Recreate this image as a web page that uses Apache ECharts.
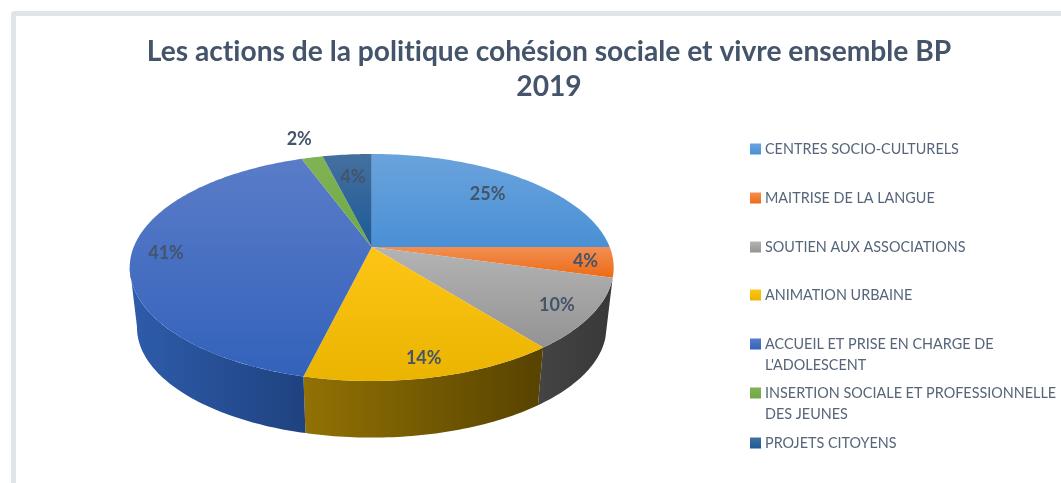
<!DOCTYPE html>
<html><head><meta charset="utf-8">
<style>html,body{margin:0;padding:0;background:#fff}#c{width:1061px;height:483px}</style>
<script src="https://cdn.jsdelivr.net/npm/echarts@6/dist/echarts.min.js"></script>
</head><body><div id="c"></div>
<script>
const titleLines = ["Les actions de la politique cohésion sociale et vivre ensemble BP", "2019"];
const categories = ["CENTRES SOCIO-CULTURELS", "MAITRISE DE LA LANGUE", "SOUTIEN AUX ASSOCIATIONS", "ANIMATION URBAINE", "ACCUEIL ET PRISE EN CHARGE DE\nL'ADOLESCENT", "INSERTION SOCIALE ET PROFESSIONNELLE\nDES JEUNES", "PROJETS CITOYENS"];
const values = [25, 4.3, 10.1, 14.4, 40.6, 1.7, 3.9];

const faceColors = [["#6aa3dc","#4a90d6"],["#f28f52","#ee6a14"],["#b4b4b4","#939393"],["#fec516","#eab400"],["#5a7cc8","#3362bb"],["#80b356","#6fa843"],["#44709f","#1c5a97"]];
const wallColors = [null,null,["#444444","#383838"],["#927204","#574200"],["#2e5cab","#1f4280"],null,null];
const labelRadius = [0.755,0.887,0.855,0.872,0.858,1.26,0.73];
const labelDrop = 1;
const legendRows = [149,198,247,295,344,393,443];
const P = {apexX:371.7, apexY:247, a:238, b:109.8, k:0.1806, midY:267.5, wallX:0.97, wallY:0.97, wallMidY:327.5, wallFrom:105.5, wallTo:260};
const total = values.reduce((s,v)=>s+v,0);
const starts = values.map((_,i)=>values.slice(0,i).reduce((s,v)=>s+v,0));

const nativeGetContext = HTMLCanvasElement.prototype.getContext;
HTMLCanvasElement.prototype.getContext = function(){
  const ctx = nativeGetContext.apply(this, arguments);
  if (ctx && 'textRendering' in ctx) ctx.textRendering = 'optimizeSpeed';
  return ctx;
};

function topPoint(deg, r){
  const t = deg*Math.PI/180, u = r*Math.sin(t), v = -r*Math.cos(t), d = 1-P.k*v;
  return [P.apexX+P.a*u/d, P.apexY+P.b*v/d];
}
function bottomPoint(deg){
  const p = topPoint(deg,1);
  return [P.apexX+(p[0]-P.apexX)*P.wallX, P.wallMidY+(p[1]-P.midY)*P.wallY];
}
function arc(from,to,fn){
  const out=[], n=Math.max(2,Math.ceil(Math.abs(to-from)));
  for(let j=0;j<=n;j++) out.push(fn(from+(to-from)*j/n));
  return out;
}
const grad=(c,h)=>new echarts.graphic.LinearGradient(0,0,h?1:0,h?0:1,[{offset:0,color:c[0]},{offset:1,color:c[1]}]);

function renderSlice(i){
  return function(params,api){
    const val = api.value(0);
    const a0 = starts[i]/total*360, a1 = a0+val/total*360;
    const children=[];
    const w0=Math.max(a0,P.wallFrom), w1=Math.min(a1,P.wallTo);
    if(wallColors[i] && w1>w0){
      const top=arc(w0,w1,d=>topPoint(d,1)), bot=arc(w1,w0,bottomPoint);
      children.push({type:'polygon',z2:1,shape:{points:top.concat(bot)},style:{fill:grad(wallColors[i],true)}});
    }
    const face=[[P.apexX,P.apexY]].concat(arc(a0,a1,d=>topPoint(d,1)));
    children.push({type:'polygon',z2:10,shape:{points:face},style:{fill:grad(faceColors[i],false)}});
    const lp=topPoint((a0+a1)/2,labelRadius[i]);
    children.push({type:'text',z2:30,style:{x:lp[0],y:lp[1]+labelDrop,text:Math.round(val)+'%',fill:'#44546a',font:'bold 18px Lato',align:'center',verticalAlign:'middle'}});
    return {type:'group',children};
  };
}
const legendFont={fontFamily:'Lato',fontSize:14.4,color:'#566579',lineHeight:21};
const option={
  animation:false,
  backgroundColor:'#fff',
  title:{text:titleLines.join('\n'),left:544,top:29,textAlign:'center',textStyle:{fontFamily:'Lato',fontWeight:'bold',fontSize:28.2,color:'#44546a',lineHeight:35}},
  graphic:[{type:'rect',z:-1,shape:{x:13.5,y:13.5,width:1100,height:520,r:1},style:{fill:'none',stroke:'#e1e5ea',lineWidth:5}}],
  legend:categories.map((c,i)=>{
    const wrapped=c.indexOf('\n')>=0;
    return {data:[c],left:750,top:legendRows[i]-(wrapped?31.5:10.5),padding:0,itemWidth:11,itemHeight:11,itemGap:0,icon:'rect',selectedMode:false,
      formatter:n=>(n.indexOf('\n')>=0?' \n':'')+n,textStyle:Object.assign({padding:[0,0,0,-1]},legendFont)};
  }),
  series:categories.map((c,i)=>({type:'custom',name:c,coordinateSystem:'none',data:[[values[i]]],renderItem:renderSlice(i),silent:true,
    itemStyle:{color:grad(faceColors[i],false)}}))
};
echarts.init(document.getElementById('c'),null,{renderer:'canvas'}).setOption(option);
</script></body></html>
